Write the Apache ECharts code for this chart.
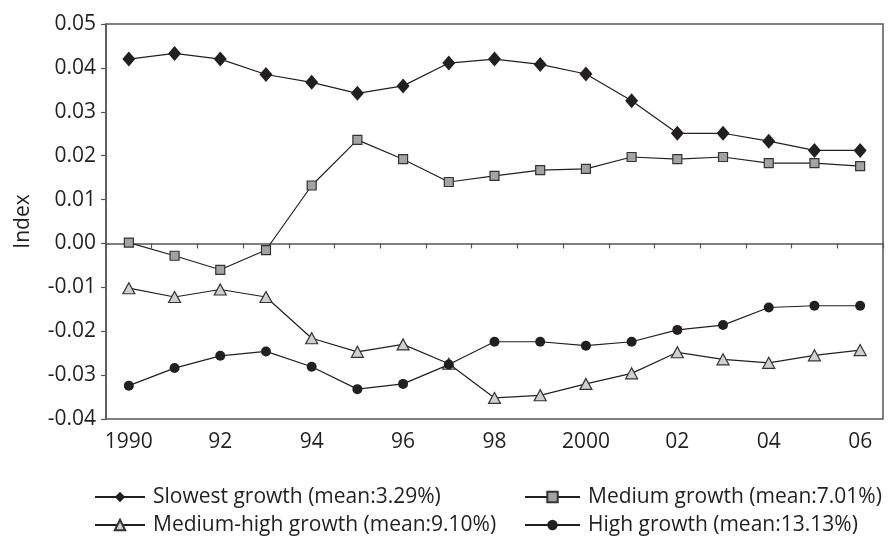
<!DOCTYPE html>
<html>
<head>
<meta charset="utf-8">
<script src="https://cdn.jsdelivr.net/npm/echarts@6/dist/echarts.min.js"></script>
<style>
html,body{margin:0;padding:0;background:#fff;}
#c{width:890px;height:541px;}
</style>
</head>
<body>
<div id="c"></div>
<script>
const years = ['1990','1991','1992','1993','1994','1995','1996','1997','1998','1999','2000','2001','2002','2003','2004','2005','2006'];
const tickLabels = ['1990','91','92','93','94','95','96','97','98','99','2000','01','02','03','04','05','06'];
const seriesNames = ['Slowest growth (mean:3.29%)','Medium growth (mean:7.01%)','Medium-high growth (mean:9.10%)','High growth (mean:13.13%)'];
const slowest = [0.0420,0.0433,0.0420,0.0385,0.0367,0.0342,0.0359,0.0411,0.0420,0.0408,0.0386,0.0325,0.0251,0.0251,0.0233,0.0212,0.0212];
const medium = [0.0002,-0.0028,-0.0060,-0.0015,0.0132,0.0236,0.0192,0.0140,0.0154,0.0167,0.0170,0.0197,0.0192,0.0197,0.0183,0.0183,0.0176];
const mediumHigh = [-0.0102,-0.0122,-0.0105,-0.0122,-0.0216,-0.0247,-0.0230,-0.0274,-0.0352,-0.0346,-0.0320,-0.0296,-0.0248,-0.0264,-0.0272,-0.0255,-0.0243];
const high = [-0.0324,-0.0284,-0.0256,-0.0246,-0.0281,-0.0332,-0.0320,-0.0276,-0.0224,-0.0224,-0.0233,-0.0224,-0.0197,-0.0186,-0.0146,-0.0142,-0.0142];
const yMin = -0.04, yMax = 0.05, yStep = 0.01;

const FONT = 'Open Sans';
const INK = '#231f20';
const AXIS = '#555555';

const chart = echarts.init(document.getElementById('c'), null, {renderer:'canvas'});

function mkLegend(name, left, top, itemWidth){
  return {
    data:[name], left:left, top:top, orient:'horizontal', padding:0,
    itemWidth:itemWidth, itemHeight:13, selectedMode:false,
    textStyle:{fontFamily:FONT, fontSize:21, color:INK, lineHeight:24, padding:[0,0,0,3]}
  };
}

chart.setOption({
  animation:false,
  backgroundColor:'#fff',
  grid:{left:106, top:24, right:7, bottom:122, show:true, borderColor:AXIS, borderWidth:1.5, containLabel:false},
  legend:[
    mkLegend(seriesNames[0], 94, 485, 50),
    mkLegend(seriesNames[1], 524, 485, 55),
    mkLegend(seriesNames[2], 94, 513, 50),
    mkLegend(seriesNames[3], 524, 513, 55)
  ],
  xAxis:[
    {
      type:'category', data:years, boundaryGap:true, position:'bottom',
      axisLine:{show:true, onZero:true, lineStyle:{color:AXIS, width:1.5}},
      axisTick:{show:true, interval:0, length:5, inside:false, lineStyle:{color:AXIS, width:1.2}},
      axisLabel:{show:false}, splitLine:{show:false}
    },
    {
      type:'category', data:years, boundaryGap:true, position:'bottom',
      axisLine:{show:false, onZero:false}, axisTick:{show:false},
      axisLabel:{show:true, interval:1, margin:13, fontFamily:FONT, fontSize:21, color:INK,
        formatter:function(v, i){ return tickLabels[years.indexOf(v)]; }},
      splitLine:{show:false}
    }
  ],
  yAxis:{
    type:'value', min:yMin, max:yMax, interval:yStep,
    name:'Index', nameLocation:'middle', nameGap:72, nameRotate:90,
    nameTextStyle:{fontFamily:FONT, fontSize:21, color:INK},
    axisLine:{show:true, lineStyle:{color:AXIS, width:1.5}},
    axisTick:{show:true, length:5, lineStyle:{color:AXIS, width:1.2}},
    axisLabel:{margin:10, fontFamily:FONT, fontSize:21, color:INK,
      formatter:function(v){ return Math.abs(v) < 1e-9 ? '0.00' : v.toFixed(2); }},
    splitLine:{show:false}
  },
  series:[
    {name:seriesNames[0], type:'line', data:slowest, symbol:'diamond', symbolSize:[13,15],
      lineStyle:{color:INK, width:1.2}, itemStyle:{color:INK, borderColor:INK, borderWidth:0}},
    {name:seriesNames[1], type:'line', data:medium, symbol:'rect', symbolSize:9,
      lineStyle:{color:INK, width:1.2}, itemStyle:{color:'#a3a3a5', borderColor:'#333', borderWidth:1.2}},
    {name:seriesNames[2], type:'line', data:mediumHigh, symbol:'triangle', symbolSize:[12,11],
      lineStyle:{color:INK, width:1.2}, itemStyle:{color:'#cfcfd0', borderColor:'#333', borderWidth:1.2}},
    {name:seriesNames[3], type:'line', data:high, symbol:'circle', symbolSize:10,
      lineStyle:{color:INK, width:1.2}, itemStyle:{color:INK, borderColor:INK, borderWidth:0}}
  ]
});
</script>
</body>
</html>
